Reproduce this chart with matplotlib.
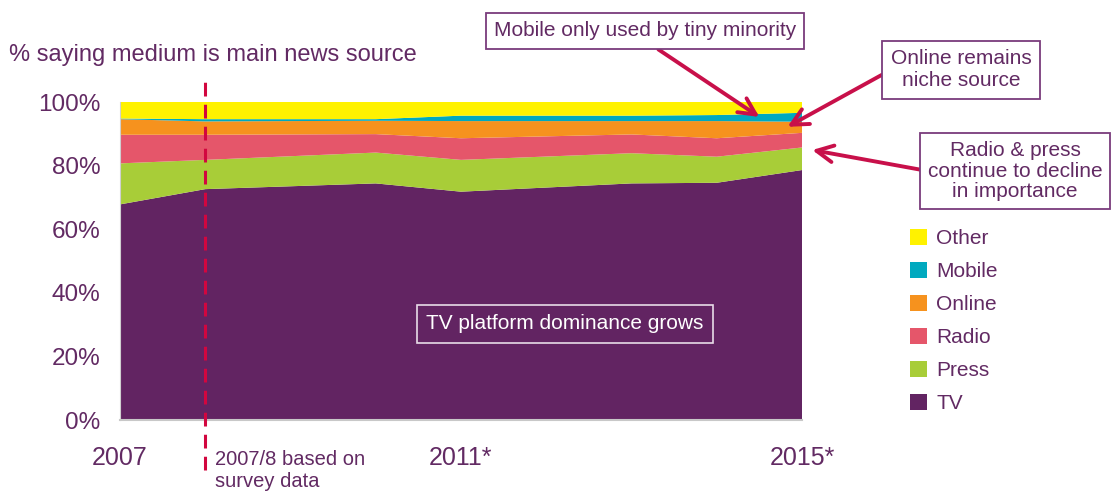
import matplotlib
matplotlib.use("Agg")
import matplotlib.pyplot as plt

# share of people naming each medium as their main news source (%)
years = [2007, 2008, 2010, 2011, 2013, 2014, 2015]
tv = [67.8, 72.6, 74.4, 71.8, 74.4, 74.6, 78.6]
press = [12.9, 9.2, 9.7, 10.0, 9.5, 8.2, 7.1]
radio = [9.0, 7.9, 5.8, 6.8, 5.9, 5.8, 4.6]
online = [4.9, 4.2, 4.2, 5.4, 4.2, 5.4, 3.5]
mobile = [0.2, 0.7, 0.5, 1.7, 1.7, 1.9, 2.8]
other = [5.2, 5.4, 5.4, 4.3, 4.3, 4.1, 3.4]

labels = ["TV", "Press", "Radio", "Online", "Mobile", "Other"]
colors = ["#622462", "#a8cd38", "#e5566a", "#f6921e", "#00a9bf", "#fff200"]
tick_years = [2007, 2011, 2015]
tick_labels = ["2007", "2011*", "2015*"]
y_ticks = [0, 20, 40, 60, 80, 100]

TXT = "#622a63"
RED = "#c8104a"
W, H = 1116, 498

plt.rcParams["font.family"] = ["Liberation Sans", "DejaVu Sans"]

fig = plt.figure(figsize=(W / 100, H / 100), dpi=100)
ax = fig.add_axes([120 / W, 1 - 420 / H, 682 / W, 318 / H])


def px(x, y):
    # pixel position -> figure fraction
    return (x / W, 1 - y / H)


ax.stackplot(years, tv, press, radio, online, mobile, other,
             colors=colors, labels=labels, zorder=2)
ax.axhline(100, color="#d0d0d0", lw=1.5, zorder=1)
ax.set_xlim(2007, 2015)
ax.set_ylim(0, 100)

for s in ["top", "right"]:
    ax.spines[s].set_visible(False)
ax.spines["left"].set_color("#d0d0d0")
ax.spines["bottom"].set_color("#c8c8c8")
ax.spines["bottom"].set_linewidth(1.5)

ax.set_xticks(tick_years)
ax.set_xticklabels(tick_labels)
ax.set_yticks(y_ticks)
ax.set_yticklabels([f"{v}%" for v in y_ticks])
ax.tick_params(axis="x", length=0, pad=19, labelsize=18, labelcolor=TXT)
ax.tick_params(axis="y", length=0, pad=14, labelsize=17.5, labelcolor=TXT)

# survey / modelled data divider
ax.plot([2008, 2008], [-15.7, 107], color="#d2063f", lw=2.2,
        dashes=[4.5, 2.7], clip_on=False, zorder=5)
fig.text(*px(215, 450), "2007/8 based on\nsurvey data", fontsize=14.5,
         color=TXT, va="top", ha="left", linespacing=1.2)

fig.text(*px(9, 55), "% saying medium is main news source", fontsize=17,
         color=TXT, va="center", ha="left")

# legend, top-down in reverse stacking order
h, l = ax.get_legend_handles_labels()
fig.legend(h[::-1], l[::-1], loc="upper left", bbox_to_anchor=px(910, 229),
           frameon=False, fontsize=15, handlelength=0.8, handleheight=0.8,
           handletextpad=0.45, labelspacing=0.66, labelcolor=TXT,
           borderaxespad=0, borderpad=0)

box = dict(facecolor="white", edgecolor="#7a3b7c", lw=1.3)
arrow = dict(arrowstyle="->,head_length=0.8,head_width=0.4", color=RED,
             lw=2.8, shrinkA=0, shrinkB=0)

ax.annotate("Mobile only used by tiny minority", xy=(2014.5, 95.3),
            xytext=px(645, 31), textcoords="figure fraction",
            fontsize=15, color=TXT, ha="center", va="center",
            bbox=dict(box, boxstyle="square,pad=0.4"),
            arrowprops=dict(arrow, relpos=(0.5, 0.0)),
            annotation_clip=False)
ax.annotate("Online remains\nniche source", xy=(2014.83, 92.2),
            xytext=px(961, 70), textcoords="figure fraction",
            fontsize=15, color=TXT, ha="center", va="center",
            linespacing=1.2, bbox=dict(box, boxstyle="square,pad=0.4"),
            arrowprops=dict(arrow, relpos=(0.0, 0.5)),
            annotation_clip=False)
ax.annotate("Radio & press\ncontinue to decline\nin importance",
            xy=(2015.12, 84.9), xytext=px(1015, 171),
            textcoords="figure fraction", fontsize=15, color=TXT,
            ha="center", va="center", linespacing=1.12,
            bbox=dict(box, boxstyle="square,pad=0.35"),
            arrowprops=dict(arrow, relpos=(0.0, 0.5)),
            annotation_clip=False)

ax.text(2012.22, 30.2, "TV platform dominance grows", fontsize=15,
        color="white", ha="center", va="center", zorder=6,
        bbox=dict(boxstyle="square,pad=0.45", facecolor="none",
                  edgecolor="#e8dce8", lw=1.2))

fig.savefig("out.png", dpi=100)
